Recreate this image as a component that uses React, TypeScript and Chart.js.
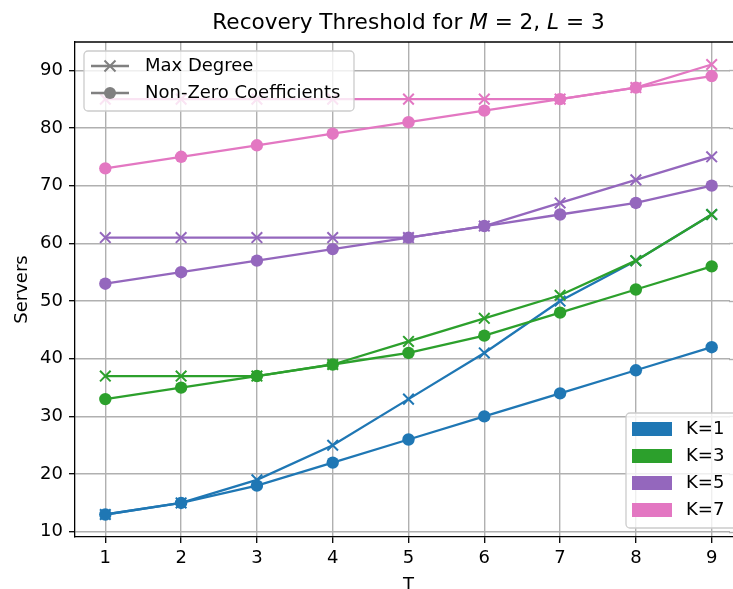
import React, { useEffect, useRef } from "react";
import { Chart, registerables } from "chart.js";

Chart.register(...registerables);

const T_VALUES = [1, 2, 3, 4, 5, 6, 7, 8, 9];
const K_LABELS = ["K=1", "K=3", "K=5", "K=7"];
const K_COLORS = ["#1f77b4", "#2ca02c", "#9467bd", "#e377c2"];

const maxDegreeK1 = [13, 15, 19, 25, 33, 41, 50, 57, 65];
const nonZeroK1 = [13, 15, 18, 22, 26, 30, 34, 38, 42];
const maxDegreeK3 = [37, 37, 37, 39, 43, 47, 51, 57, 65];
const nonZeroK3 = [33, 35, 37, 39, 41, 44, 48, 52, 56];
const maxDegreeK5 = [61, 61, 61, 61, 61, 63, 67, 71, 75];
const nonZeroK5 = [53, 55, 57, 59, 61, 63, 65, 67, 70];
const maxDegreeK7 = [85, 85, 85, 85, 85, 85, 85, 87, 91];
const nonZeroK7 = [73, 75, 77, 79, 81, 83, 85, 87, 89];

const Y_TICKS = [10, 20, 30, 40, 50, 60, 70, 80, 90];
const X_TICKS = [1, 2, 3, 4, 5, 6, 7, 8, 9];

const MAX_SERIES = [maxDegreeK1, maxDegreeK3, maxDegreeK5, maxDegreeK7];
const NZ_SERIES = [nonZeroK1, nonZeroK3, nonZeroK5, nonZeroK7];

const FONT = "DejaVu Sans";
const CANVAS_W = 733;
const CANVAS_H = 589;
// full axes would span 0.6..9.4 (right edge at ~742px); the picture is cropped at 733px
const X_MIN = 0.6;
const X_MAX_FULL = 9.4;
const AXES_LEFT = 75;
const AXES_RIGHT_FULL = 742;
const X_MAX = X_MIN + ((X_MAX_FULL - X_MIN) * (CANVAS_W - AXES_LEFT)) / (AXES_RIGHT_FULL - AXES_LEFT);

function drawCross(ctx: CanvasRenderingContext2D, x: number, y: number, h: number) {
  ctx.beginPath();
  ctx.moveTo(x - h, y - h);
  ctx.lineTo(x + h, y + h);
  ctx.moveTo(x - h, y + h);
  ctx.lineTo(x + h, y - h);
  ctx.stroke();
}

function legendBox(ctx: CanvasRenderingContext2D, x: number, y: number, w: number, h: number) {
  ctx.save();
  ctx.beginPath();
  (ctx as any).roundRect(x, y, w, h, 4);
  ctx.fillStyle = "rgba(255,255,255,0.8)";
  ctx.fill();
  ctx.strokeStyle = "#cccccc";
  ctx.lineWidth = 1.3;
  ctx.stroke();
  ctx.restore();
}

const decorPlugin = {
  id: "decor",
  afterDraw(chart: any) {
    const ctx: CanvasRenderingContext2D = chart.ctx;
    const ca = chart.chartArea;
    const yScale = chart.scales.y;
    ctx.save();
    // the axes continue past the cropped right edge: no right spine is visible
    ctx.fillStyle = "#fff";
    ctx.fillRect(CANVAS_W - 3, ca.top + 1, 3, ca.bottom - ca.top - 2);
    ctx.strokeStyle = "#b0b0b0";
    ctx.lineWidth = 1.4;
    for (const v of Y_TICKS) {
      const py = Math.round(yScale.getPixelForValue(v)) + 0.5;
      ctx.beginPath();
      ctx.moveTo(CANVAS_W - 4, py);
      ctx.lineTo(CANVAS_W, py);
      ctx.stroke();
    }

    // top spine
    ctx.strokeStyle = "#000";
    ctx.lineWidth = 1.3;
    ctx.beginPath();
    ctx.moveTo(ca.left, ca.top);
    ctx.lineTo(CANVAS_W, ca.top);
    ctx.stroke();

    // title (centered over full axes)
    const parts: [string, boolean][] = [
      ["Recovery Threshold for ", false],
      ["M", true],
      [" = 2, ", false],
      ["L", true],
      [" = 3", false],
    ];
    const tSize = 21.6;
    let total = 0;
    for (const [s, it] of parts) {
      ctx.font = `${it ? "italic " : ""}${tSize}px "${FONT}"`;
      total += ctx.measureText(s).width;
    }
    const centerX = (AXES_LEFT + AXES_RIGHT_FULL) / 2;
    let tx = centerX - total / 2;
    ctx.fillStyle = "#000";
    ctx.textBaseline = "alphabetic";
    ctx.textAlign = "left";
    for (const [s, it] of parts) {
      ctx.font = `${it ? "italic " : ""}${tSize}px "${FONT}"`;
      ctx.fillText(s, tx, 28.5);
      tx += ctx.measureText(s).width;
    }

    // axis labels
    ctx.font = `18px "${FONT}"`;
    ctx.textAlign = "center";
    ctx.textBaseline = "alphabetic";
    ctx.fillText("T", centerX, 590);
    ctx.save();
    ctx.translate(27, (ca.top + ca.bottom) / 2);
    ctx.rotate(-Math.PI / 2);
    ctx.fillText("Servers", 0, 0);
    ctx.restore();

    // legend 1 (marker styles)
    legendBox(ctx, 84, 51, 270, 60);
    const grey = "#808080";
    const rows1 = [66, 93];
    ctx.strokeStyle = grey;
    ctx.fillStyle = grey;
    ctx.lineWidth = 2.3;
    for (let i = 0; i < 2; i++) {
      const y = rows1[i];
      ctx.beginPath();
      ctx.moveTo(91, y);
      ctx.lineTo(129, y);
      ctx.stroke();
      if (i === 0) {
        ctx.lineWidth = 2;
        drawCross(ctx, 110, y, 5.5);
        ctx.lineWidth = 2.3;
      } else {
        ctx.beginPath();
        ctx.arc(110, y, 6, 0, Math.PI * 2);
        ctx.fill();
      }
    }
    ctx.fillStyle = "#000";
    ctx.font = `18px "${FONT}"`;
    ctx.textAlign = "left";
    ctx.textBaseline = "middle";
    ctx.fillText("Max Degree", 145, rows1[0]);
    ctx.fillText("Non-Zero Coefficients", 145, rows1[1]);

    // legend 2 (colors)
    legendBox(ctx, 626, 413, 130, 115);
    const rows2 = [429, 456, 483, 510];
    for (let i = 0; i < 4; i++) {
      ctx.fillStyle = K_COLORS[i];
      ctx.fillRect(632, rows2[i] - 7, 40, 14);
      ctx.fillStyle = "#000";
      ctx.fillText(K_LABELS[i], 686, rows2[i]);
    }
    ctx.restore();
  },
};

export default function App() {
  const ref = useRef<HTMLCanvasElement | null>(null);
  useEffect(() => {
    if (!ref.current) return;
    const datasets: any[] = [];
    let idx = 0;
    for (let k = 0; k < 4; k++) {
      datasets.push({
        label: `${K_LABELS[k]} Max Degree`,
        data: T_VALUES.map((t, i) => ({ x: t, y: MAX_SERIES[k][i] })),
        borderColor: K_COLORS[k],
        backgroundColor: K_COLORS[k],
        borderWidth: 2.3,
        pointStyle: "crossRot",
        pointRadius: 7.5,
        pointBorderWidth: 2,
        pointBorderColor: K_COLORS[k],
        pointBackgroundColor: K_COLORS[k],
        tension: 0,
        fill: false,
        clip: false,
        order: -idx++,
      });
      datasets.push({
        label: `${K_LABELS[k]} Non-Zero Coefficients`,
        data: T_VALUES.map((t, i) => ({ x: t, y: NZ_SERIES[k][i] })),
        borderColor: K_COLORS[k],
        backgroundColor: K_COLORS[k],
        borderWidth: 2.3,
        pointStyle: "circle",
        pointRadius: 6.2,
        pointBorderWidth: 0,
        pointBackgroundColor: K_COLORS[k],
        tension: 0,
        fill: false,
        clip: false,
        order: -idx++,
      });
    }
    const chart = new Chart(ref.current, {
      type: "line",
      data: { datasets },
      options: {
        responsive: false,
        animation: false,
        events: [],
        layout: { autoPadding: false, padding: { top: 42, right: 0, bottom: 0, left: 0 } },
        plugins: {
          legend: { display: false },
          title: { display: false },
          tooltip: { enabled: false },
        },
        scales: {
          x: {
            type: "linear",
            min: X_MIN,
            max: X_MAX,
            afterBuildTicks: (s: any) => {
              s.ticks = X_TICKS.map((v) => ({ value: v }));
            },
            afterFit: (s: any) => {
              s.height = CANVAS_H - 537;
              s.paddingLeft = 0;
              s.paddingRight = 0;
            },
            ticks: {
              color: "#000",
              font: { family: FONT, size: 18 },
              padding: 5,
              maxRotation: 0,
              autoSkip: false,
            },
            grid: {
              color: "#b0b0b0",
              lineWidth: 1.4,
              tickColor: "#000",
              tickLength: 6,
              tickWidth: 1.3,
              drawTicks: true,
            },
            border: { display: true, color: "#000", width: 1.3 },
          },
          y: {
            type: "linear",
            min: 9.1,
            max: 94.9,
            afterBuildTicks: (s: any) => {
              s.ticks = Y_TICKS.map((v) => ({ value: v }));
            },
            afterFit: (s: any) => {
              s.width = AXES_LEFT;
              s.paddingTop = 0;
              s.paddingBottom = 0;
            },
            ticks: {
              color: "#000",
              font: { family: FONT, size: 18 },
              padding: 6,
              autoSkip: false,
            },
            grid: {
              color: "#b0b0b0",
              lineWidth: 1.4,
              tickColor: "#000",
              tickLength: 6,
              tickWidth: 1.3,
              drawTicks: true,
            },
            border: { display: true, color: "#000", width: 1.3 },
          },
        },
      },
      plugins: [decorPlugin],
    } as any);
    return () => chart.destroy();
  }, []);
  return (
    <div
      style={{
        position: "absolute",
        left: 0,
        top: 0,
        width: CANVAS_W,
        height: CANVAS_H,
        overflow: "hidden",
        background: "#fff",
      }}
    >
      <canvas ref={ref} width={CANVAS_W} height={CANVAS_H} style={{ width: CANVAS_W, height: CANVAS_H, display: "block" }} />
    </div>
  );
}
